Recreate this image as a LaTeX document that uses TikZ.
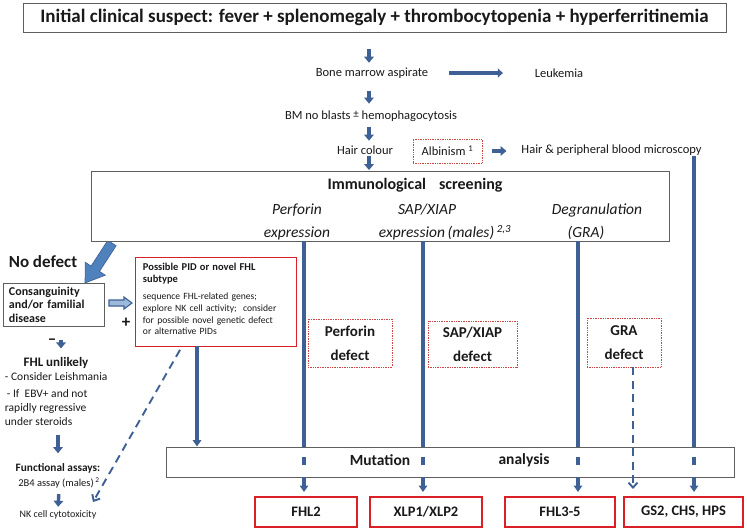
\documentclass[tikz,border=0pt]{standalone}
\usepackage{fontspec}
\setmainfont{Carlito}
\usetikzlibrary{arrows.meta}
\definecolor{flowblue}{RGB}{62,96,148}
\definecolor{blockblue}{RGB}{79,129,189}
\definecolor{boxred}{RGB}{218,32,38}
\definecolor{dotred}{RGB}{205,70,70}
\definecolor{boxgray}{RGB}{95,95,95}
\definecolor{inkgray}{RGB}{25,25,25}
\newcommand{\fsz}[2]{\fontsize{#1}{#2}\selectfont}
\tikzset{
  txt/.style={inner sep=0.75pt, text=inkgray},
  graybox/.style={draw=boxgray, line width=0.9pt, fill=white, inner sep=0pt},
  redbox/.style={draw=boxred, line width=2pt, inner sep=0pt, text=inkgray, font=\fsz{14.5}{16}\bfseries},
  dotbox/.style={draw=dotred, densely dotted, line width=0.7pt, inner sep=0pt, text=inkgray},
  blkarrow/.style={draw=flowblue, line width=3.6pt, -{Triangle[width=9.5pt,length=6pt]}},
  vline/.style={draw=flowblue, line width=3.2pt},
  varrow/.style={vline, -{Triangle[width=8.5pt,length=6.5pt]}},
  midbreak/.style={vline, dash pattern=on 0pt off 10pt on 8pt off 20pt},
  dasharrow/.style={draw=flowblue, line width=1.9pt, dash pattern=on 8pt off 5.5pt, -{Straight Barb[width=9pt,length=5pt]}}
}
\begin{document}
\begin{tikzpicture}[x=1pt,y=-1pt]
\useasboundingbox (0,0) rectangle (747,531);
% columns
\coordinate (midcol) at (369,0);
\coordinate (perfcol) at (304,0);
\coordinate (sapcol) at (423,0);
\coordinate (gracol) at (578,0);
\coordinate (gradash) at (633,0);
\coordinate (hpcol) at (694,0);
\coordinate (pidcol) at (197,0);
\coordinate (pidtail) at (182,0);
\coordinate (nktip) at (93,502);
%Shape: Block Arrow (no defect)
\draw [draw=flowblue, fill=blockblue, line width=0.6pt] (116.2,245.7) -- (99.5,271.4) -- (105.4,275.2) -- (85,283) -- (85.2,262.2) -- (91.1,266.0) -- (107.8,240.3) -- cycle;
% Boxes
\node (title) at (374.5,17.5) [graybox, minimum width=703pt, minimum height=29pt, text=inkgray, font=\fsz{19}{21}\bfseries] {Initial clinical suspect: fever + splenomegaly + thrombocytopenia + hyperferritinemia};
\node (immuno) at (380,206) [graybox, minimum width=578pt, minimum height=70pt] {};
\node (consang) at (53.5,304.5) [graybox, minimum width=101pt, minimum height=43pt, text width=89pt, align=left, text=inkgray, font=\fsz{12}{13.5}\bfseries] {Consanguinity\\and/or familial\\disease};
\node (pid) at (215.5,301.5) [draw=boxred, line width=0.8pt, inner sep=0pt, minimum width=161pt, minimum height=89pt] {};
\node (pidtext) at (142,262.5) [txt, anchor=north west, text width=152pt, align=left, font=\fsz{9.6}{11.8}] {{\fsz{10.5}{12.3}\bfseries Possible PID or novel FHL\\subtype}\\[5pt]sequence FHL-related genes;\\explore NK cell activity;\ \ consider\\for possible novel genetic defect\\or alternative PIDs};
\node (mut) at (450,462) [graybox, minimum width=568pt, minimum height=30pt] {};
% Dotted boxes
\node (albin) at (447.5,151) [dotbox, minimum width=69pt, minimum height=24pt, font=\fsz{12.5}{14}] {Albinism \textsuperscript{1}};
\node (perfdef) at (350,343) [dotbox, minimum width=84pt, minimum height=48pt, align=center, font=\fsz{15}{24}\bfseries] {Perforin\\defect};
\node (sapdef) at (472.5,344) [dotbox, minimum width=89pt, minimum height=46pt, align=center, font=\fsz{15}{24}\bfseries] {SAP/XIAP\\defect};
\node (gradef) at (624,342.5) [dotbox, minimum width=74pt, minimum height=49pt, align=center, font=\fsz{15}{24}\bfseries] {GRA\\defect};
% Result boxes
\node (fhl2) at (306,512) [redbox, minimum width=102pt, minimum height=30pt] {FHL2};
\node (xlp) at (426,512) [redbox, minimum width=112pt, minimum height=30pt] {XLP1/XLP2};
\node (fhl35) at (560,512) [redbox, minimum width=110pt, minimum height=30pt] {FHL3-5};
\node (gs2) at (683.5,512) [redbox, minimum width=119pt, minimum height=30pt] {GS2, CHS, HPS};
% Text Node
\node (bma) at (372,73) [txt, font=\fsz{12.5}{14}] {Bone marrow aspirate};
% Text Node
\node (leuk) at (559,73) [txt, font=\fsz{12.5}{14}] {Leukemia};
% Text Node
\node (bmnb) at (371,116) [txt, font=\fsz{12.5}{14}] {BM no blasts \raisebox{1.5pt}{\fsz{11}{12}±} hemophagocytosis};
% Text Node
\node (hair) at (365,150) [txt, font=\fsz{12.5}{14}] {Hair colour};
% Text Node
\node (hpbm) at (611.5,150) [txt, font=\fsz{12.5}{14}] {Hair \& peripheral blood microscopy};
% Text Node
\node (screen) at (415,185) [txt, font=\fsz{16}{18}\bfseries] {Immunological\hspace{13pt}screening};
\node (perf1) at (297,210) [txt, font=\fsz{15.5}{17}\itshape] {Perforin};
\node (perf2) at (297,233) [txt, font=\fsz{15.5}{17}\itshape] {expression};
\node (sap1) at (427,210) [txt, font=\fsz{15.5}{17}\itshape] {SAP/XIAP};
\node (sap2) at (445,233) [txt, font=\fsz{15.5}{17}\itshape] {expression\,(males)\,\textsuperscript{2,3}};
\node (gra1) at (597,210) [txt, font=\fsz{15.5}{17}\itshape] {Degranulation};
\node (gra2) at (586,233) [txt, font=\fsz{15.5}{17}\itshape] {(GRA)};
% Text Node
\node (nodef) at (43,262) [txt, font=\fsz{17}{19}\bfseries] {No defect};
\node (plus) at (126,323) [txt, font=\fsz{17}{19}\bfseries] {+};
\node (minus) at (52,342) [txt, font=\fsz{17}{19}\bfseries] {--};
% Text Node
\node (unlikely) at (56,363) [txt, font=\fsz{13}{15}\bfseries] {FHL unlikely};
\node (leish) at (4,372) [txt, anchor=north west, align=left, font=\fsz{11.5}{14}] {- Consider Leishmania\\[3pt]\hspace{2pt}- If\ \ EBV+ and not\\rapidly regressive\\under steroids};
\node (funct) at (58,468) [txt, font=\fsz{11.3}{13}\bfseries] {Functional assays:};
\node (assay) at (59,483) [txt, font=\fsz{10.5}{12}] {2B4 assay (males)\,\textsuperscript{2}};
\node (nkcell) at (58,515) [txt, font=\fsz{10}{12}] {NK cell cytotoxicity};
% Text Node
\node (mutl) at (380,460) [txt, font=\fsz{15.5}{17}\bfseries] {Mutation};
\node (mutr) at (524,460) [txt, font=\fsz{15.5}{17}\bfseries] {analysis};
%Straight Lines (main column)
\draw [blkarrow, shorten <=17pt, shorten >=4pt] (title.south -| midcol) -- (bma.north -| midcol);
\draw [blkarrow, shorten <=12pt, shorten >=6pt] (bma.south -| midcol) -- (bmnb.north -| midcol);
\draw [blkarrow, shorten <=5pt, shorten >=4pt] (bmnb.south -| midcol) -- (hair.north -| midcol);
\draw [blkarrow, shorten <=1pt, shorten >=0.5pt] (hair.south -| midcol) -- (immuno.north -| midcol);
\draw [draw=flowblue, line width=4.6pt, -{Triangle[width=9pt,length=5pt]}, shorten <=20pt, shorten >=31pt] (bma.east) -- (leuk.west);
\draw [blkarrow, line width=3.8pt, shorten <=10pt, shorten >=14pt] (albin.east) -- (hpbm.west |- albin.east);
%Straight Lines (screening columns)
\foreach \col/\res in {perfcol/fhl2, sapcol/xlp, gracol/fhl35} {
  \draw [vline] (immuno.south -| \col) -- (mut.north -| \col);
  \draw [midbreak] (mut.north -| \col) -- (mut.south -| \col);
  \draw [varrow, shorten >=4pt] (mut.south -| \col) -- (\res.north -| \col);
}
\draw [vline] (hpbm.south -| hpcol) -- (mut.north -| hpcol);
\draw [midbreak] (mut.north -| hpcol) -- (mut.south -| hpcol);
\draw [varrow, shorten >=4pt] (mut.south -| hpcol) -- (gs2.north -| hpcol);
\draw [varrow] (pid.south -| pidcol) -- (mut.north -| pidcol);
%Dashed Lines
\draw [dasharrow, shorten <=4pt] (pid.south -| pidtail) -- (nktip);
\draw [dasharrow, shorten >=7pt] (gradef.south -| gradash) -- (gs2.north -| gradash);
%Shape: Block Arrow (consanguinity to PID)
\draw [draw=flowblue, fill=blockblue!55, line width=1.1pt] (109,300) -- (124,300) -- (124,297) -- (132,303) -- (124,309) -- (124,306) -- (109,306) -- cycle;
%Straight Lines (left column)
\draw [blkarrow, line width=3.4pt, shorten <=14pt, shorten >=8pt] (consang.south -| 61,0) -- (unlikely.north -| 61,0);
\draw [blkarrow, line width=3.4pt, shorten <=8pt, shorten >=9pt] (leish.south -| funct) -- (funct.north);
\draw [blkarrow, line width=3.4pt, shorten <=5pt, shorten >=3pt] (assay.south) -- (nkcell.north);
\end{tikzpicture}
\end{document}
